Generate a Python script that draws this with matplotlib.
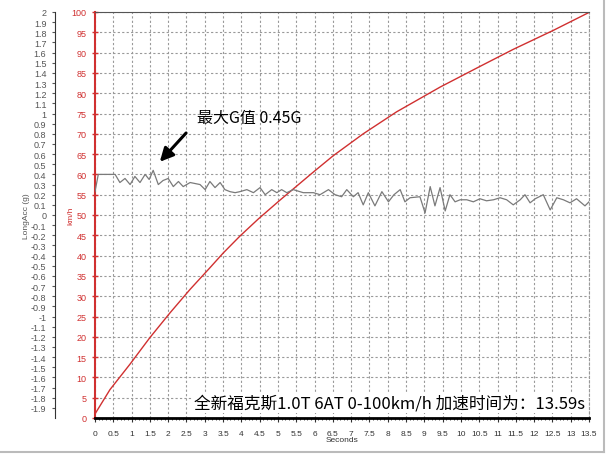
import matplotlib
matplotlib.use("Agg")
import matplotlib.pyplot as plt
import numpy as np
from matplotlib.lines import Line2D

plt.rcParams['font.family'] = ['Liberation Sans', 'Noto Sans CJK SC', 'DejaVu Sans']
plt.rcParams['axes.unicode_minus'] = False

# speed curve (km/h)
speed_t = [0, 0.41, 0.96, 1.5, 2.05, 2.6, 3.14, 3.5, 3.96, 4.46, 5.06, 5.97,
           6.51, 7.33, 8.24, 9.43, 10.52, 11.43, 12.53, 13.48]
speed_kmh = [1, 7.0, 13.3, 19.8, 25.9, 31.7, 37.0, 40.6, 44.8, 49.0, 53.7, 60.6,
             64.6, 70.0, 75.4, 81.5, 86.6, 90.8, 95.5, 99.8]

# longitudinal acceleration (g)
acc_t = [0.00, 0.09, 0.41, 0.55, 0.68, 0.82, 0.96, 1.09, 1.23, 1.37, 1.48, 1.59,
         1.73, 1.86, 2.00, 2.14, 2.28, 2.41, 2.60, 2.87, 3.01, 3.14, 3.28, 3.42,
         3.55, 3.69, 3.83, 3.96, 4.15, 4.33, 4.51, 4.65, 4.83, 4.97, 5.10, 5.24,
         5.42, 5.69, 5.97, 6.15, 6.38, 6.56, 6.74, 6.88, 7.06, 7.19, 7.33, 7.47,
         7.65, 7.84, 8.02, 8.17, 8.34, 8.47, 8.61, 8.88, 9.02, 9.16, 9.29, 9.43,
         9.57, 9.70, 9.84, 9.98, 10.16, 10.34, 10.52, 10.70, 10.89, 11.07, 11.25,
         11.43, 11.62, 11.75, 11.89, 12.03, 12.25, 12.44, 12.62, 12.80, 12.98,
         13.16, 13.39, 13.5]
acc_g = [0.23, 0.40, 0.40, 0.40, 0.32, 0.36, 0.30, 0.38, 0.32, 0.40, 0.35, 0.44,
         0.30, 0.34, 0.36, 0.28, 0.33, 0.28, 0.32, 0.30, 0.25, 0.33, 0.27, 0.32,
         0.25, 0.23, 0.22, 0.23, 0.25, 0.22, 0.27, 0.20, 0.25, 0.22, 0.25, 0.22,
         0.25, 0.22, 0.22, 0.20, 0.25, 0.20, 0.18, 0.25, 0.18, 0.22, 0.10, 0.22,
         0.09, 0.23, 0.13, 0.20, 0.25, 0.13, 0.17, 0.18, 0.02, 0.28, 0.09, 0.27,
         0.04, 0.20, 0.13, 0.15, 0.15, 0.13, 0.16, 0.14, 0.15, 0.17, 0.15,
         0.10, 0.15, 0.20, 0.12, 0.16, 0.20, 0.05, 0.17, 0.15, 0.12,
         0.16, 0.09, 0.13]

x_ticks = np.arange(0, 13.51, 0.5)
kmh_ticks = np.arange(0, 101, 5)
g_ticks = np.round(np.arange(-1.9, 2.01, 0.1), 1)

fig = plt.figure(figsize=(6.08, 4.56), dpi=100)
ax = fig.add_axes([95 / 608, 37 / 456, 494 / 608, 406 / 456])

red = '#d03030'
ax.plot(speed_t, speed_kmh, color=red, lw=1)
ax.set_xlim(0, 13.5)
ax.set_ylim(0, 100)
ax.set_xticks(x_ticks)
ax.set_xticklabels([f"{v:g}" for v in x_ticks])
ax.set_yticks(kmh_ticks)
ax.grid(True, color='#999999', linestyle=(0, (2, 2)), lw=0.8)
ax.tick_params(axis='y', colors=red, labelsize=6.5, direction='inout', length=5, width=1)
ax.tick_params(axis='x', colors='#333333', labelsize=6, direction='out', length=3, pad=6)
ax.set_xticks(np.arange(0, 13.51, 0.1), minor=True)
ax.tick_params(axis='x', which='minor', length=1.5, color='#333333')
ax.set_xlabel('Seconds', fontsize=6, color='#333333', labelpad=-1)
ax.set_ylabel('km/h', fontsize=6, color=red, labelpad=-2)
ax.spines['left'].set_color(red)
ax.spines['left'].set_linewidth(1.5)
ax.spines['bottom'].set_color('black')
ax.spines['bottom'].set_linewidth(2)
ax.spines['top'].set_color('#555555')
ax.spines['right'].set_color('#999999')
ax.spines['right'].set_linestyle((0, (2, 2)))

ax2 = ax.twinx()
ax2.plot(acc_t, acc_g, color='#7a7a7a', lw=0.9)
ax2.set_ylim(-2, 2)
ax2.set_yticks(g_ticks)
ax2.set_yticklabels([f"{v:g}" for v in g_ticks])
ax2.yaxis.tick_left()
ax2.yaxis.set_label_position('left')
ax2.spines['left'].set_position(('outward', 29))
ax2.spines['left'].set_color('#333333')
ax2.spines['right'].set_visible(False)
ax2.spines['top'].set_visible(False)
ax2.spines['bottom'].set_visible(False)
ax2.tick_params(axis='y', colors='#555555', labelsize=6.5, direction='out', length=2.5)
ax2.set_ylabel('LongAcc (g)', fontsize=6, color='#555555', labelpad=0.5)

ax.annotate('', xy=(1.72, 62.6), xytext=(2.54, 70.7),
            arrowprops=dict(arrowstyle='-|>', color='black', lw=2.2, mutation_scale=20))
ax.text(2.79, 74.1, '最大G值 0.45G', fontsize=11.5, va='center', ha='left',
        family=['Noto Sans CJK SC', 'DejaVu Sans'])
ax.text(13.4, 3.8, '全新福克斯1.0T 6AT 0-100km/h 加速时间为：13.59s', fontsize=12,
        va='center', ha='right', family=['Noto Sans CJK SC', 'DejaVu Sans'],
        bbox=dict(facecolor='white', edgecolor='none', pad=1.5))

fig.add_artist(Line2D([0, 0.993], [0.007, 0.007], transform=fig.transFigure, color='#bbbbbb', lw=1.5))
fig.add_artist(Line2D([0.993, 0.993], [0.007, 1], transform=fig.transFigure, color='#bbbbbb', lw=1.5))

fig.savefig('out.png', dpi=100)
